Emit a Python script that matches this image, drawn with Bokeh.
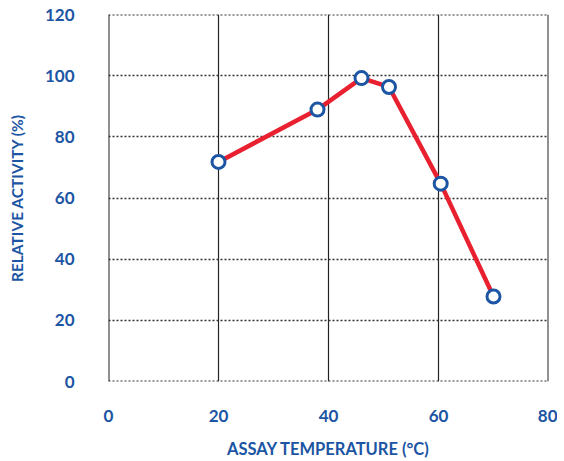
from bokeh.plotting import figure
from bokeh.models import FixedTicker, Range1d, Span
from bokeh.embed import file_html
from bokeh.resources import INLINE

temperature = [20, 38, 46, 51, 60.4, 70]
activity = [71.8, 88.9, 99.2, 96.3, 64.7, 27.8]
x_ticks = [0, 20, 40, 60, 80]
y_ticks = [0, 20, 40, 60, 80, 100, 120]

BLUE = "#1B55A3"
RED = "#E8202F"
FONT = "Lato"

p = figure(width=557, height=453, frame_width=440, frame_height=367,
           min_border_left=108, min_border_right=9, min_border_top=14, min_border_bottom=72,
           output_backend="svg", toolbar_location=None,
           x_range=Range1d(x_ticks[0], x_ticks[-1]), y_range=Range1d(y_ticks[0], y_ticks[-1]))
p.outline_line_color = None

p.xaxis.ticker = FixedTicker(ticks=x_ticks)
p.yaxis.ticker = FixedTicker(ticks=y_ticks)
p.xgrid.ticker = FixedTicker(ticks=x_ticks[1:-1])
p.ygrid.ticker = FixedTicker(ticks=y_ticks[1:-1])

p.xgrid.grid_line_color = "#222222"
p.xgrid.grid_line_width = 1.2
p.ygrid.grid_line_color = "#333333"
p.ygrid.grid_line_dash = "2 2"
p.ygrid.grid_line_width = 1.5

# edge lines of the frame (grid lines at range bounds)
for yv in (y_ticks[0], y_ticks[-1]):
    p.add_layout(Span(location=yv, dimension="width", line_color="#333333",
                      line_dash="2 2", line_width=2))
for xv in (x_ticks[0], x_ticks[-1]):
    p.add_layout(Span(location=xv, dimension="height", line_color="#222222",
                      line_width=2))

for ax in (p.xaxis, p.yaxis):
    ax.axis_line_color = None
    ax.major_tick_line_color = None
    ax.minor_tick_line_color = None
    ax.major_label_text_color = BLUE
    ax.major_label_text_font = FONT
    ax.major_label_text_font_style = "bold"
    ax.major_label_text_font_size = "17px"
    ax.axis_label_text_color = BLUE
    ax.axis_label_text_font = FONT
    ax.axis_label_text_font_style = "bold"

p.xaxis.axis_label_text_font_size = "16.5px"
p.yaxis.axis_label_text_font_size = "15.5px"
p.xaxis.axis_label = "ASSAY TEMPERATURE (°C)"
p.yaxis.axis_label = "RELATIVE ACTIVITY (%)"
p.xaxis.major_label_standoff = 22
p.yaxis.major_label_standoff = 28
p.xaxis.axis_label_standoff = 14
p.yaxis.axis_label_standoff = 16

p.line(temperature, activity, line_color=RED, line_width=4.5)
p.scatter(temperature, activity, size=13, fill_color="white", line_color=BLUE, line_width=3)

open("out.html", "w").write(file_html(p, INLINE))
